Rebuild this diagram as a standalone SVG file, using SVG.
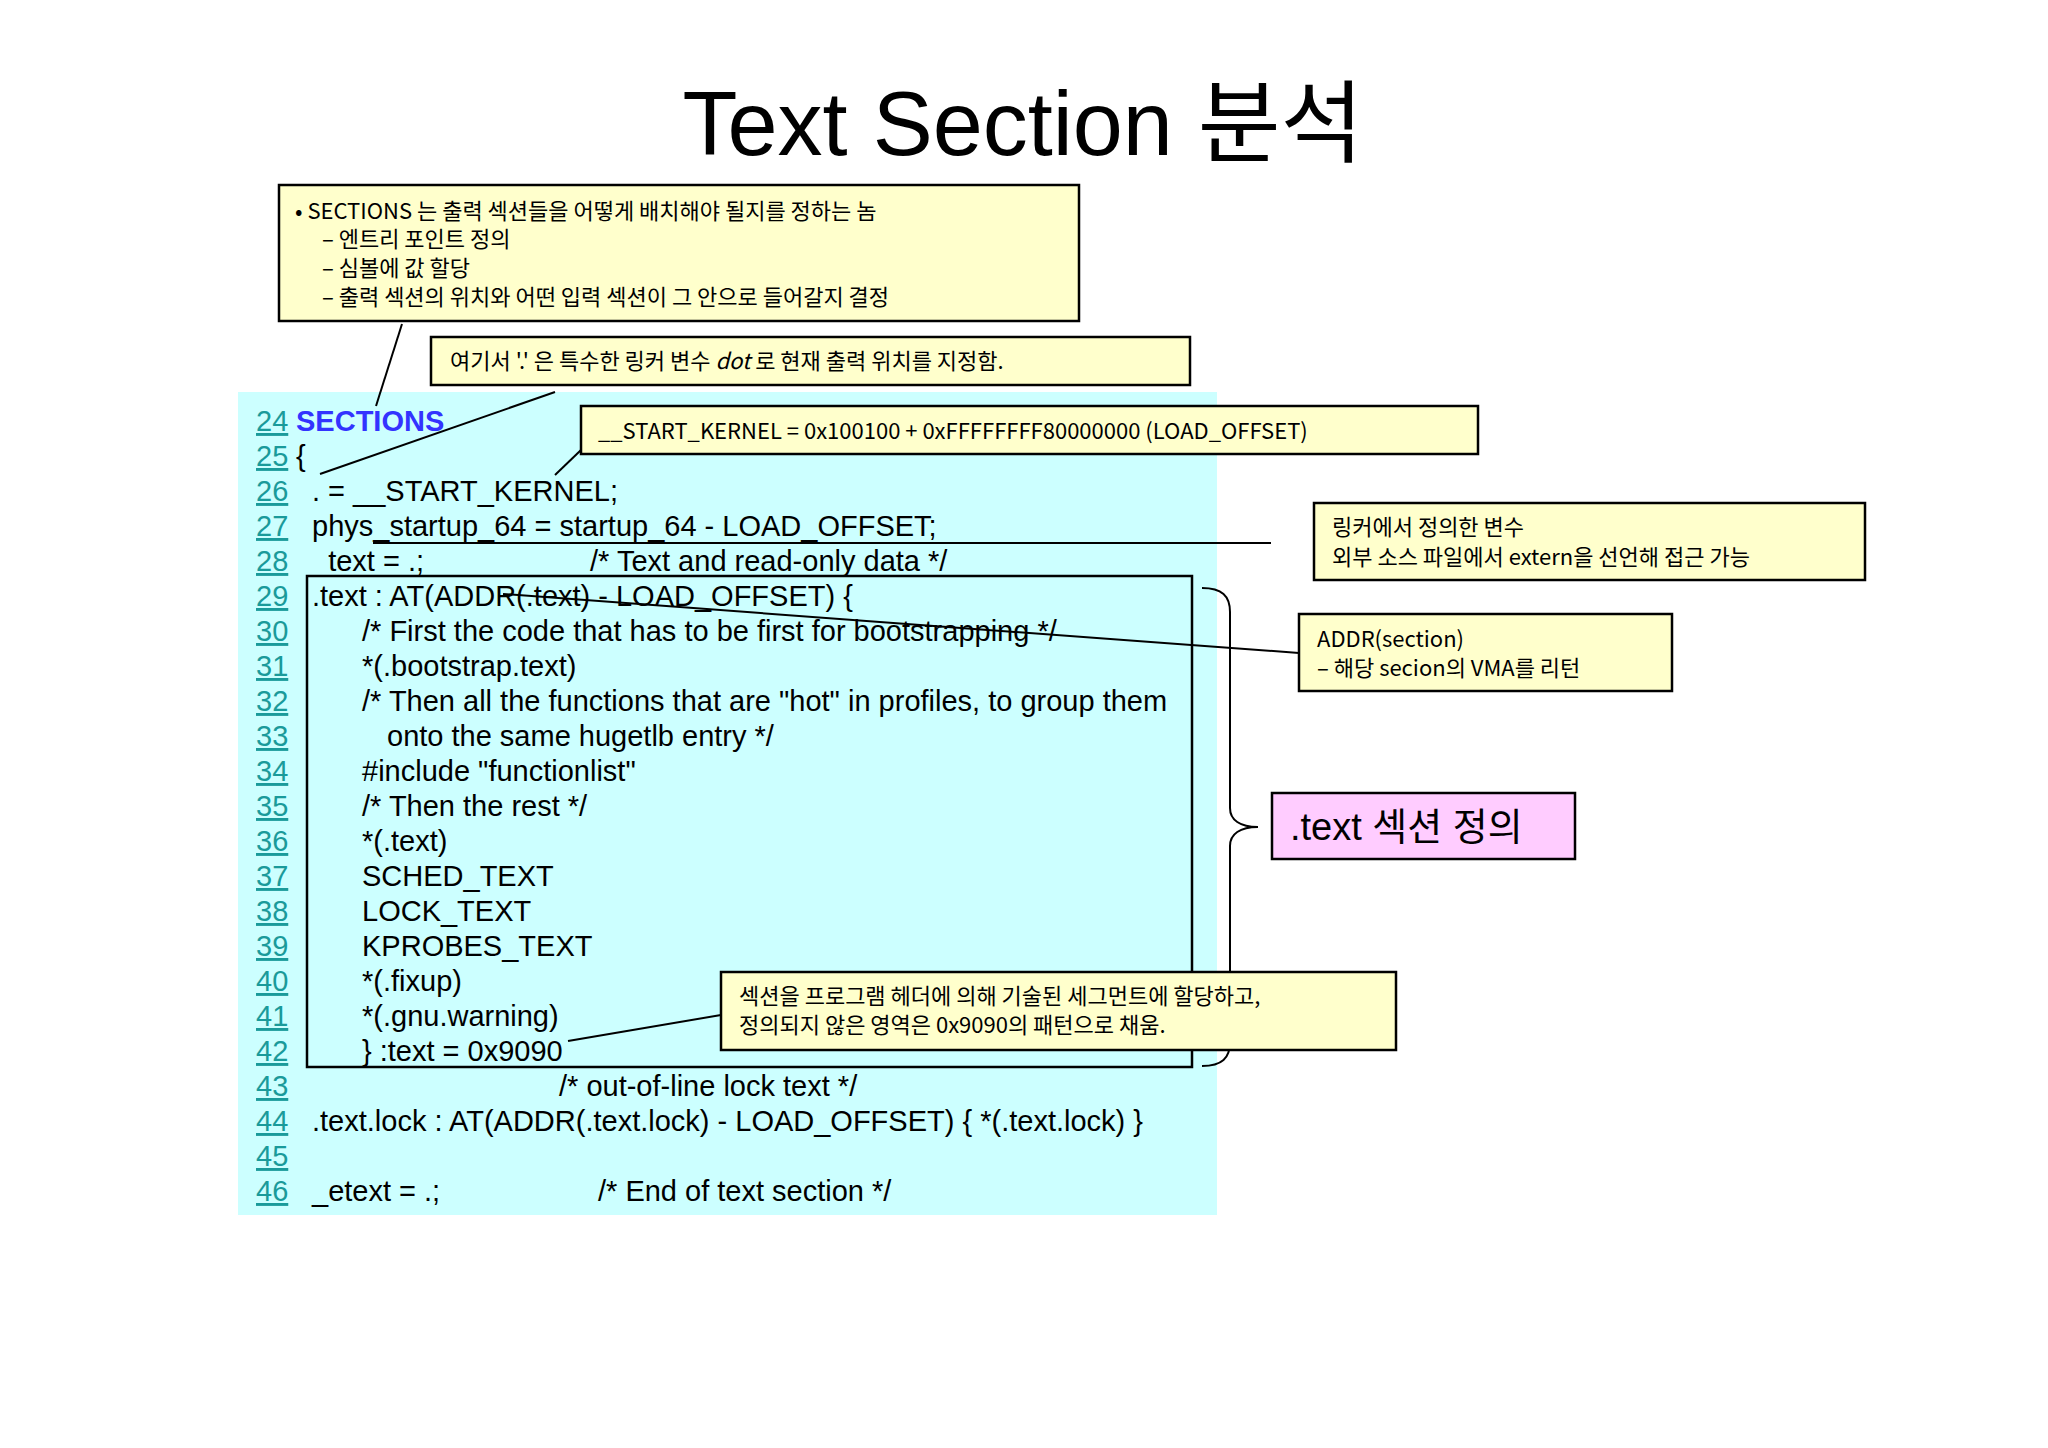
<svg xmlns="http://www.w3.org/2000/svg" width="2048" height="1448" viewBox="0 0 2048 1448">
<style>
.code{font-family:"Liberation Sans",Arial,sans-serif;font-size:29px;fill:#000}
.ln{font-family:"Liberation Sans",Arial,sans-serif;font-size:29px;fill:#1a9a9a;text-decoration:underline}
.note{font-family:"Noto Sans CJK KR","Liberation Sans",sans-serif;font-size:22px;fill:#000}
.box{fill:#ffffcc;stroke:#000;stroke-width:2.5}
.conn line,.conn path{stroke:#000;stroke-width:2;fill:none}
</style>
<rect width="2048" height="1448" fill="#fff"/>
<text x="1023" y="155" text-anchor="middle" font-family="Liberation Sans, 'Noto Sans CJK KR', sans-serif" font-size="90">Text Section 분석</text>
<rect x="238" y="392" width="979" height="823" fill="#ccffff"/>
<g id="code">
<text class="ln" x="256" y="431">24</text><text x="296" y="431" font-family="Liberation Sans, Arial, sans-serif" font-size="29" font-weight="bold" fill="#3333ff">SECTIONS</text>
<text class="ln" x="256" y="466">25</text><text class="code" x="296" y="466">{</text>
<text class="ln" x="256" y="501">26</text><text class="code" x="312" y="501">. = __START_KERNEL;</text>
<text class="ln" x="256" y="536">27</text><text class="code" x="312" y="536">phys_startup_64 = startup_64 - LOAD_OFFSET;</text>
<text class="ln" x="256" y="571">28</text><text class="code" x="312" y="571">_text = .;</text><text class="code" x="590" y="571">/* Text and read-only data */</text>
<text class="ln" x="256" y="606">29</text><text class="code" x="312" y="606">.text :  AT(ADDR(.text) - LOAD_OFFSET) {</text>
<text class="ln" x="256" y="641">30</text><text class="code" x="362" y="641">/* First the code that has to be first for bootstrapping */</text>
<text class="ln" x="256" y="676">31</text><text class="code" x="362" y="676">*(.bootstrap.text)</text>
<text class="ln" x="256" y="711">32</text><text class="code" x="362" y="711">/* Then all the functions that are "hot" in profiles, to group them</text>
<text class="ln" x="256" y="746">33</text><text class="code" x="387" y="746">onto the same hugetlb entry */</text>
<text class="ln" x="256" y="781">34</text><text class="code" x="362" y="781">#include "functionlist"</text>
<text class="ln" x="256" y="816">35</text><text class="code" x="362" y="816">/* Then the rest */</text>
<text class="ln" x="256" y="851">36</text><text class="code" x="362" y="851">*(.text)</text>
<text class="ln" x="256" y="886">37</text><text class="code" x="362" y="886">SCHED_TEXT</text>
<text class="ln" x="256" y="921">38</text><text class="code" x="362" y="921">LOCK_TEXT</text>
<text class="ln" x="256" y="956">39</text><text class="code" x="362" y="956">KPROBES_TEXT</text>
<text class="ln" x="256" y="991">40</text><text class="code" x="362" y="991">*(.fixup)</text>
<text class="ln" x="256" y="1026">41</text><text class="code" x="362" y="1026">*(.gnu.warning)</text>
<text class="ln" x="256" y="1061">42</text><text class="code" x="362" y="1061">} :text = 0x9090</text>
<text class="ln" x="256" y="1096">43</text><text class="code" x="559" y="1096">/* out-of-line lock text */</text>
<text class="ln" x="256" y="1131">44</text><text class="code" x="312" y="1131">.text.lock : AT(ADDR(.text.lock) - LOAD_OFFSET) { *(.text.lock) }</text>
<text class="ln" x="256" y="1166">45</text>
<text class="ln" x="256" y="1201">46</text><text class="code" x="312" y="1201">_etext = .;</text><text class="code" x="598" y="1201">/* End of text section */</text>
</g>
<rect x="307" y="576" width="885" height="491" fill="none" stroke="#000" stroke-width="2.5"/>
<g class="conn" id="connectors">
<line x1="402" y1="324" x2="376" y2="406"/>
<line x1="555" y1="392" x2="320" y2="474"/>
<line x1="581" y1="450" x2="555" y2="475"/>
<line x1="373" y1="543" x2="1271" y2="543"/>
<line x1="503" y1="594" x2="1299" y2="653"/>
<line x1="568" y1="1041" x2="721" y2="1015"/>
<path d="M1202,588 C1222,588 1230,596 1230,612 L1230,808 C1230,820 1240,827 1258,827 C1240,827 1230,834 1230,846 L1230,1042 C1230,1058 1222,1066 1202,1066"/>
</g>
<g id="sections-note">
<rect class="box" x="279" y="185" width="800" height="136"/>
<text class="note" x="295" y="219">• SECTIONS 는 출력 섹션들을 어떻게 배치해야 될지를 정하는 놈</text>
<text class="note" x="322" y="247">– 엔트리 포인트 정의</text>
<text class="note" x="322" y="276">– 심볼에 값 할당</text>
<text class="note" x="322" y="305">– 출력 섹션의 위치와 어떤 입력 섹션이 그 안으로 들어갈지 결정</text>
</g>
<g id="dot-note">
<rect class="box" x="431" y="337" width="759" height="48"/>
<text class="note" x="450" y="369">여기서 '.' 은 특수한 링커 변수 <tspan font-style="italic">dot</tspan> 로 현재 출력 위치를 지정함.</text>
</g>
<g id="start-note">
<rect class="box" x="581" y="406" width="897" height="48"/>
<text class="note" x="598" y="439">__START_KERNEL = 0x100100 + 0xFFFFFFFF80000000 (LOAD_OFFSET)</text>
</g>
<g id="linker-note">
<rect class="box" x="1314" y="503" width="551" height="77"/>
<text class="note" x="1332" y="535">링커에서 정의한 변수</text>
<text class="note" x="1332" y="565">외부 소스 파일에서 extern을 선언해 접근 가능</text>
</g>
<g id="addr-note">
<rect class="box" x="1299" y="614" width="373" height="77"/>
<text class="note" x="1317" y="647">ADDR(section)</text>
<text class="note" x="1317" y="676">– 해당 secion의 VMA를 리턴</text>
</g>
<g id="text-label">
<rect x="1272" y="793" width="303" height="66" fill="#ffccff" stroke="#000" stroke-width="2.5"/>
<text x="1290" y="840" font-family="Liberation Sans, 'Noto Sans CJK KR', sans-serif" font-size="38">.text 섹션 정의</text>
</g>
<g id="section-note">
<rect class="box" x="721" y="972" width="675" height="78"/>
<text class="note" x="739" y="1004">섹션을 프로그램 헤더에 의해 기술된 세그먼트에 할당하고,</text>
<text class="note" x="739" y="1033">정의되지 않은 영역은 0x9090의 패턴으로 채움.</text>
</g>
</svg>
